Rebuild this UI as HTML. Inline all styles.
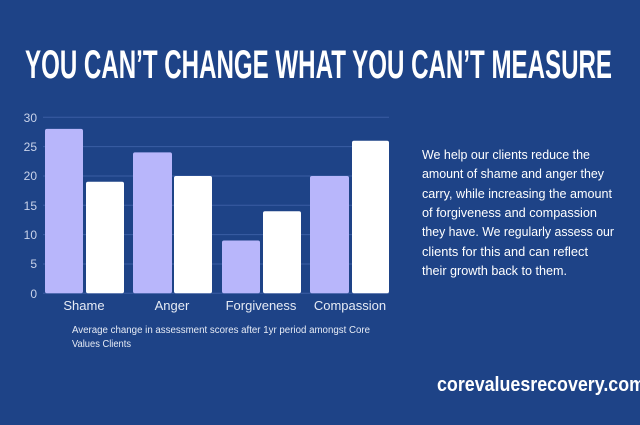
<!DOCTYPE html>
<html><head><meta charset="utf-8"><style>
html,body{margin:0;padding:0;background:#1e4387;}
svg{display:block}
</style></head><body>
<svg width="640" height="425" viewBox="0 0 640 425" xmlns="http://www.w3.org/2000/svg">
<rect width="640" height="425" fill="#1e4387"/>
<text x="25" y="78" font-family="Liberation Sans Narrow, Liberation Sans, sans-serif" font-weight="bold" font-size="40" fill="#fff" textLength="587" lengthAdjust="spacingAndGlyphs">YOU CAN’T CHANGE WHAT YOU CAN’T MEASURE</text>
<g stroke="#3a5da3" stroke-width="1">
<line x1="43" y1="117.3" x2="389" y2="117.3"/>
<line x1="43" y1="146.6" x2="389" y2="146.6"/>
<line x1="43" y1="176" x2="389" y2="176"/>
<line x1="43" y1="205.3" x2="389" y2="205.3"/>
<line x1="43" y1="234.6" x2="389" y2="234.6"/>
<line x1="43" y1="264" x2="389" y2="264"/>
<line x1="43" y1="293.3" x2="389" y2="293.3"/>
</g>
<g font-family="Liberation Sans Narrow, Liberation Sans, sans-serif" font-size="12" fill="#c9d3ea" text-anchor="end">
<text x="37" y="122">30</text><text x="37" y="151">25</text><text x="37" y="180">20</text>
<text x="37" y="210">15</text><text x="37" y="239">10</text><text x="37" y="268">5</text><text x="37" y="298">0</text>
</g>
<g fill="#b8b6fb">
<rect x="45" y="128.9" width="38" height="164.4" rx="2"/>
<rect x="133" y="152.4" width="39" height="140.9" rx="2"/>
<rect x="222" y="240.5" width="38" height="52.8" rx="2"/>
<rect x="310" y="176" width="39" height="117.3" rx="2"/>
</g>
<g fill="#ffffff">
<rect x="86" y="181.8" width="38" height="111.5" rx="2"/>
<rect x="174" y="176" width="38" height="117.3" rx="2"/>
<rect x="263" y="211.2" width="38" height="82.1" rx="2"/>
<rect x="352" y="140.7" width="37" height="152.6" rx="2"/>
</g>
<g font-family="Liberation Sans Narrow, Liberation Sans, sans-serif" font-size="13" fill="#e6ebf5" text-anchor="middle">
<text x="84" y="310">Shame</text><text x="172" y="310">Anger</text>
<text x="261" y="310">Forgiveness</text><text x="350" y="310">Compassion</text>
</g>
<g font-family="Liberation Sans Narrow, Liberation Sans, sans-serif" font-size="10" fill="#e6ebf5">
<text x="72" y="333" textLength="298" lengthAdjust="spacingAndGlyphs">Average change in assessment scores after 1yr period amongst Core</text>
<text x="72" y="347" textLength="59" lengthAdjust="spacingAndGlyphs">Values Clients</text>
</g>
<g font-family="Liberation Sans, sans-serif" font-size="13" fill="#ffffff" lengthAdjust="spacingAndGlyphs">
<text x="422" y="159" textLength="168" lengthAdjust="spacingAndGlyphs">We help our clients reduce the</text>
<text x="422" y="178" textLength="182" lengthAdjust="spacingAndGlyphs">amount of shame and anger they</text>
<text x="422" y="198" textLength="190" lengthAdjust="spacingAndGlyphs">carry, while increasing the amount</text>
<text x="422" y="217" textLength="175" lengthAdjust="spacingAndGlyphs">of forgiveness and compassion</text>
<text x="422" y="236" textLength="192" lengthAdjust="spacingAndGlyphs">they have. We regularly assess our</text>
<text x="422" y="256" textLength="166" lengthAdjust="spacingAndGlyphs">clients for this and can reflect</text>
<text x="422" y="275" textLength="145" lengthAdjust="spacingAndGlyphs">their growth back to them.</text>
</g>
<text x="437" y="391" font-family="Liberation Sans, sans-serif" font-weight="bold" font-size="20" fill="#fff" textLength="208" lengthAdjust="spacingAndGlyphs">corevaluesrecovery.com</text>
</svg>
</body></html>
